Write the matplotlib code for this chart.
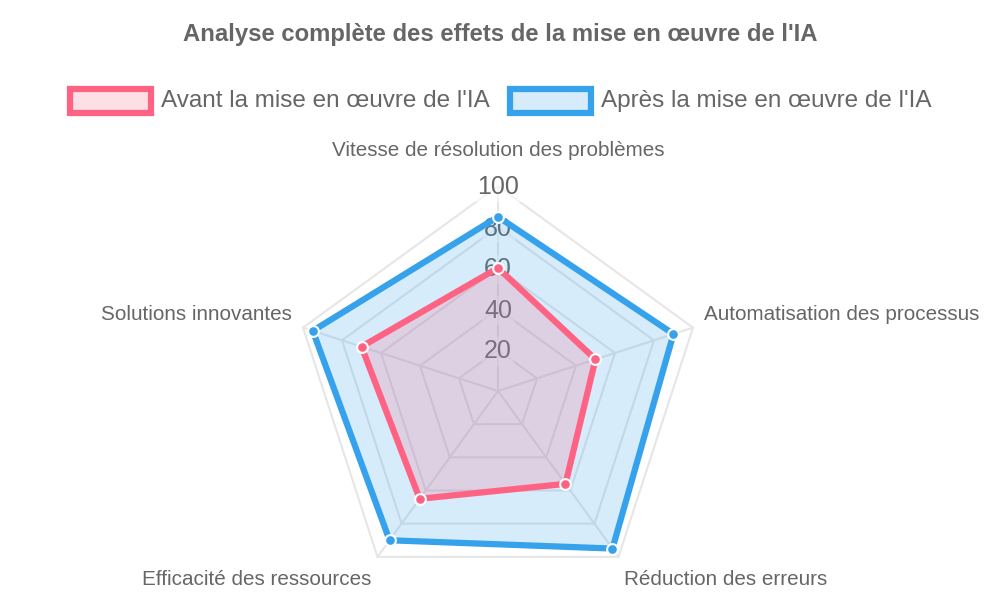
import matplotlib
matplotlib.use("Agg")
import matplotlib.pyplot as plt
import numpy as np

plt.rcParams['font.family'] = ['Liberation Sans', 'DejaVu Sans']

# data
categories = ["Vitesse de résolution des problèmes", "Automatisation des processus",
              "Réduction des erreurs", "Efficacité des ressources", "Solutions innovantes"]
avant = [60, 50, 56, 65, 70]
apres = [85, 90, 95, 90, 95]
ticks = [20, 40, 60, 80, 100]
series_names = ["Avant la mise en œuvre de l'IA", "Après la mise en œuvre de l'IA"]

pink = '#FF6384'
blue = '#36A2EB'
grey_txt = '#666666'
grid_col = '#E6E6E6'

# layout in pixel coordinates
cx, cy = 498, 391
scale = 2.05  # pixels per unit
n = len(categories)
ang = np.pi / 2 - 2 * np.pi * np.arange(n) / n


def xy(vals):
    v = np.asarray(vals, dtype=float)
    return cx + v * scale * np.cos(ang), cy - v * scale * np.sin(ang)


fig = plt.figure(figsize=(10, 6), dpi=100)
ax = fig.add_axes([0, 0, 1, 1])
ax.set_xlim(0, 1000)
ax.set_ylim(600, 0)
ax.axis('off')

# grid pentagons and angle lines
for t in ticks:
    x, y = xy([t] * n)
    ax.plot(np.append(x, x[0]), np.append(y, y[0]), color=grid_col, lw=1.5, zorder=1)
xo, yo = xy([100] * n)
for i in range(n):
    ax.plot([cx, xo[i]], [cy, yo[i]], color=grid_col, lw=1.5, zorder=1)

# tick labels
for t in ticks:
    ax.text(cx, cy - t * scale + 1.5, str(t), ha='center', va='center', fontsize=18,
            color=grey_txt, zorder=2,
            bbox=dict(boxstyle='square,pad=0.1', fc='white', ec='none', alpha=0.6))

# datasets (first dataset drawn on top, like Chart.js)
for k, (vals, col) in enumerate([(apres, blue), (avant, pink)]):
    x, y = xy(vals)
    xc, yc = np.append(x, x[0]), np.append(y, y[0])
    z = 3 + 3 * k
    ax.fill(xc, yc, color=col, alpha=0.2, lw=0, zorder=z)
    ax.plot(xc, yc, color=col, lw=4.5, solid_joinstyle='miter', zorder=z + 1)
    ax.scatter(x, y, s=60, color=col, edgecolor='white', linewidth=1.5, zorder=z + 2)

# point labels
lab_fs = 14.9
offsets = [(0, -36, 'center', 'center'), (11, -13, 'left', 'center'),
           (6, 23, 'left', 'center'), (-6, 23, 'right', 'center'),
           (-11, -13, 'right', 'center')]
for i, name in enumerate(categories):
    dx, dy, ha, va = offsets[i]
    ax.text(xo[i] + dx, yo[i] + dy, name, ha=ha, va=va, fontsize=lab_fs, color=grey_txt)

# title
ax.text(500, 35, "Analyse complète des effets de la mise en œuvre de l'IA", ha='center',
        va='center', fontsize=17.2, fontweight='bold', color=grey_txt)

# legend
legend_items = [(67, series_names[0], pink), (507, series_names[1], blue)]
for lx, name, col in legend_items:
    ax.add_patch(matplotlib.patches.Rectangle((lx + 2.5, 88.5), 81, 24, fc=col, alpha=0.2,
                                              ec='none', zorder=2))
    ax.add_patch(matplotlib.patches.Rectangle((lx + 2.5, 88.5), 81, 24, fill=False, ec=col,
                                              lw=4.5, zorder=3))
    ax.text(lx + 94, 101, name, ha='left', va='center', fontsize=17.5, color=grey_txt)

fig.savefig("out.png", dpi=100)
